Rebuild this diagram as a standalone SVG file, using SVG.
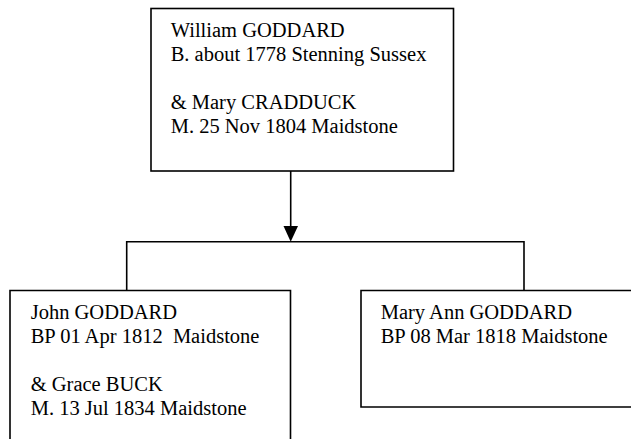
<svg xmlns="http://www.w3.org/2000/svg" width="631" height="439" viewBox="0 0 631 439">
<style>
.box{fill:#fff;stroke:#000;stroke-width:1.6}
.ln{fill:none;stroke:#000;stroke-width:1.6}
text{font-family:"Liberation Serif","Times New Roman",serif;font-size:20.5px;fill:#000;white-space:pre}
</style>
<rect width="631" height="439" fill="#fff"/>
<g id="connectors">
<line class="ln" x1="290.7" y1="171" x2="290.7" y2="228"/>
<polygon points="283.5,226 298,226 290.7,241.7" fill="#000"/>
<polyline class="ln" points="126.7,290 126.7,241.7 524,241.7 524,290"/>
</g>
<g id="william">
<rect class="box" x="151" y="8.5" width="302.5" height="162.5"/>
<text x="170.7" y="37">William GODDARD</text>
<text x="170.7" y="61">B. about 1778 Stenning Sussex</text>
<text x="170.7" y="109">&amp; Mary CRADDUCK</text>
<text x="170.7" y="133">M. 25 Nov 1804 Maidstone</text>
</g>
<g id="john">
<path class="box" d="M10,445 V290.5 H290.5 V445"/>
<text x="30.7" y="319">John GODDARD</text>
<text x="30.7" y="343">BP 01 Apr 1812  Maidstone</text>
<text x="30.7" y="391">&amp; Grace BUCK</text>
<text x="30.7" y="415">M. 13 Jul 1834 Maidstone</text>
</g>
<g id="maryann">
<path class="box" d="M640,290.5 H361 V407 H640"/>
<text x="380.7" y="319">Mary Ann GODDARD</text>
<text x="380.7" y="343">BP 08 Mar 1818 Maidstone</text>
</g>
</svg>
